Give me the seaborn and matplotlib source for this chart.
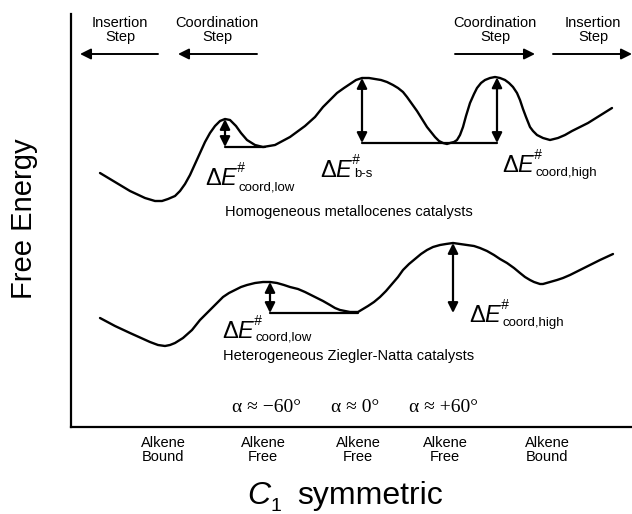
import numpy as np
import pandas as pd
import matplotlib
matplotlib.use('Agg')
import matplotlib.pyplot as plt
import seaborn as sns

# Energy profiles (x = reaction coordinate, y = free energy, screen units, down = lower)
upper_x = [100, 115, 130, 145, 155, 162, 168, 175, 180, 185, 190, 195, 200, 205, 210, 215, 220, 225, 230, 236,
           241, 247, 255, 263, 275, 290, 305, 315, 323, 330, 337, 344, 350, 356, 362, 369, 375, 381, 387, 393,
           398, 403, 407, 412, 417, 422, 427, 431, 435, 439, 443, 447, 450, 454, 457, 460, 463, 466, 470, 474,
           477, 481, 485, 490, 495, 500, 505, 509, 513, 517, 520, 523, 526, 530, 533, 537, 543, 550, 558, 565,
           572, 580, 588, 596, 604, 612]
upper_y = [173, 182, 191, 198, 201, 201, 199, 196, 191, 184, 175, 164, 153, 142, 133, 126, 121, 119, 120, 126,
           133, 140, 145, 147, 145, 137, 126, 117, 107, 100, 93, 88, 84, 80, 78, 78, 79, 80, 82, 85,
           88, 92, 97, 104, 111, 119, 127, 132, 137, 141, 143, 144, 143, 142, 140, 135, 127, 116, 103, 94,
           88, 83, 80, 78, 77, 78, 80, 83, 87, 93, 100, 109, 117, 127, 131, 135, 138, 140, 138, 135,
           131, 127, 123, 118, 113, 108]
lower_x = [100, 115, 130, 150, 158, 165, 170, 175, 183, 192, 200, 206, 212, 218, 223, 229, 235, 241, 247, 255,
           263, 270, 277, 284, 290, 298, 305, 311, 317, 323, 330, 335, 340, 345, 350, 354, 358, 363, 368, 374,
           380, 386, 392, 398, 403, 409, 415, 421, 427, 433, 440, 446, 453, 460, 467, 474, 480, 487, 494, 500,
           507, 514, 520, 525, 530, 534, 537, 540, 543, 550, 557, 563, 570, 580, 590, 600, 613]
lower_y = [318, 326, 333, 342, 345, 346, 345, 343, 338, 330, 320, 314, 308, 302, 297, 293, 290, 287, 285, 283,
           282, 282, 283, 285, 287, 289, 292, 295, 298, 301, 305, 308, 310, 311, 312, 312, 312, 309, 306, 302,
           297, 291, 284, 277, 270, 264, 259, 254, 250, 247, 245, 244, 243, 244, 245, 246, 248, 251, 255, 259,
           263, 268, 273, 277, 280, 282, 283, 284, 284, 282, 280, 278, 275, 270, 265, 260, 254]

# barriers: arrow x, reference (well) level, end of the reference line
upper_barrier_x = [225, 362, 497]
upper_base = [147, 143, 143]
upper_base_end = [265, 497, 497]
lower_barrier_x = [270, 453]
lower_base = [313, 313]
lower_base_end = [358, 453]

barrier_subs = ['coord,low', 'b-s', 'coord,high', 'coord,low', 'coord,high']
barrier_label_pos = [(205, 185, 6), (320, 177, 0), (502, 172, 4), (222, 338, 3), (469, 322, 4)]

states = ['Alkene\nBound', 'Alkene\nFree', 'Alkene\nFree', 'Alkene\nFree', 'Alkene\nBound']
state_x = [163, 263, 358, 445, 547]
alphas = ['\u03b1 \u2248 \u221260\u00b0', '\u03b1 \u2248 0\u00b0', '\u03b1 \u2248 +60\u00b0']
alpha_x = [267, 355, 444]
steps = ['Insertion\nStep', 'Coordination\nStep', 'Coordination\nStep', 'Insertion\nStep']
step_x = [120, 217, 495, 593]
step_arrows = [(158, 80), (257, 178), (455, 535), (553, 632)]

sns.set_style('white')
plt.rcParams['font.family'] = ['Liberation Sans', 'DejaVu Sans']
plt.rcParams['text.color'] = 'black'

fig = plt.figure(figsize=(6.32, 5.14), dpi=100)
ax = fig.add_axes([71 / 632, 87 / 514, 561 / 632, 413 / 514])

df = pd.concat([
    pd.DataFrame({'x': upper_x, 'y': upper_y, 'cat': 'homogeneous'}),
    pd.DataFrame({'x': lower_x, 'y': lower_y, 'cat': 'heterogeneous'}),
])
sns.lineplot(data=df, x='x', y='y', units='cat', estimator=None, sort=False,
             color='black', linewidth=1.7, ax=ax)

ax.set_xlim(71, 632)
ax.set_ylim(427, 14)
ax.set_xticks([])
ax.set_yticks([])
ax.set_xlabel('')
ax.set_ylabel('')
sns.despine(ax=ax)
for s in ['left', 'bottom']:
    ax.spines[s].set_linewidth(1.6)
    ax.spines[s].set_color('black')

dbl = dict(arrowstyle='<|-|>', color='black', lw=1.6, mutation_scale=15, shrinkA=0, shrinkB=0)


def barriers(xs, bases, ends, cx, cy):
    for bx, base, end in zip(xs, bases, ends):
        top = np.interp(bx, cx, cy)
        ax.annotate('', xy=(bx, top), xytext=(bx, base), arrowprops=dbl, annotation_clip=False)
        ax.plot([bx, end], [base, base], color='black', lw=1.6)


barriers(upper_barrier_x, upper_base, upper_base_end, upper_x, upper_y)
barriers(lower_barrier_x, lower_base, lower_base_end, lower_x, lower_y)

for sub, (x0, yb, dy) in zip(barrier_subs, barrier_label_pos):
    ax.text(x0, yb, '\u0394', fontsize=17, va='baseline', ha='left')
    ax.text(x0 + 15, yb, 'E', fontsize=17, style='italic', va='baseline', ha='left')
    ax.text(x0 + 32, yb - 13, '#', fontsize=10, style='italic', va='baseline', ha='left')
    ax.text(x0 + 34, yb + dy, sub, fontsize=9.5, va='baseline', ha='left')

ax.text(225, 212, 'Homogeneous metallocenes catalysts', fontsize=10.5, va='center', ha='left')
ax.text(223, 356, 'Heterogeneous Ziegler-Natta catalysts', fontsize=10.5, va='center', ha='left')

for a, x in zip(alphas, alpha_x):
    ax.text(x, 407, a, fontsize=14, ha='center', va='center', family=['Liberation Serif', 'DejaVu Serif'])

for s, x in zip(states, state_x):
    ax.text(x, 450, s, fontsize=10.5, ha='center', va='center', linespacing=1.0)

for s, x in zip(steps, step_x):
    ax.text(x, 30, s, fontsize=10.5, ha='center', va='center', linespacing=1.0)

for x0, x1 in step_arrows:
    ax.annotate('', xy=(x1, 54), xytext=(x0, 54), annotation_clip=False,
                arrowprops=dict(arrowstyle='-|>', color='black', lw=1.4, mutation_scale=16,
                                shrinkA=0, shrinkB=0))

ax.text(24, 219, 'Free Energy', fontsize=21, rotation=90, ha='center', va='center')
ax.text(247, 504, 'C', fontsize=23, style='italic', ha='left', va='baseline')
ax.text(271, 511, '1', fontsize=14, ha='left', va='baseline')
ax.text(297, 504, 'symmetric', fontsize=23, ha='left', va='baseline')

fig.savefig('out.png', dpi=100)
